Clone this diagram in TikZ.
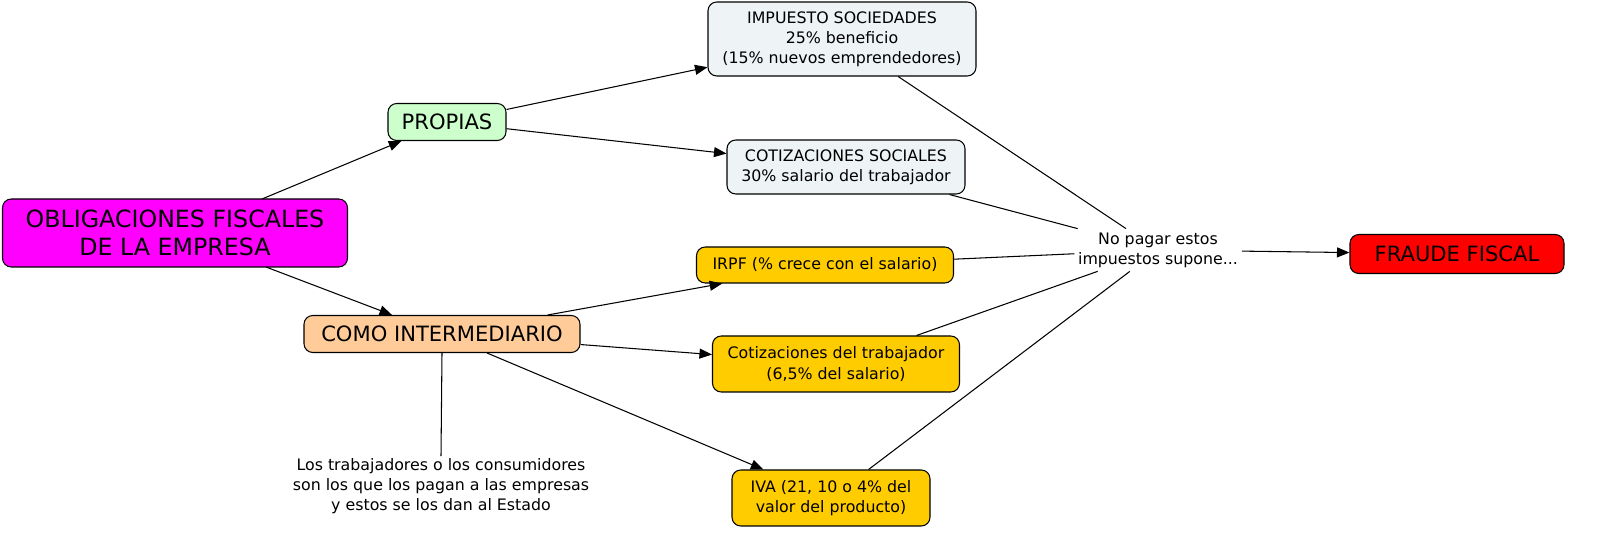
\documentclass[tikz,border=0pt]{standalone}
\usepackage{fontspec}
\setmainfont{DejaVu Sans}
\usetikzlibrary{arrows.meta}
\begin{document}
\begin{tikzpicture}[x=0.02cm,y=-0.02cm,
  box/.style={draw=black,rounded corners=5pt,align=center,inner sep=0pt,line width=0.6pt},
  small/.style={font=\fontsize{9}{11.5}\selectfont},
  big/.style={font=\fontsize{12}{14}\selectfont},
  arr/.style={-{Triangle[length=0.25cm,width=0.2cm]},line width=0.6pt},
  ln/.style={line width=0.6pt}]
\definecolor{mag}{HTML}{FF00FF}
\definecolor{lgreen}{HTML}{CCFFCC}
\definecolor{peach}{HTML}{FFCC99}
\definecolor{pale}{HTML}{EEF4F6}
\definecolor{gold}{HTML}{FFCC00}
\node[box,fill=mag,minimum width=345*0.02cm,minimum height=68*0.02cm,font=\fontsize{13.5}{16}\selectfont] (obl) at (175,233) {OBLIGACIONES FISCALES\\ DE LA EMPRESA};
\node[box,big,fill=lgreen,minimum width=118*0.02cm,minimum height=37*0.02cm] (pro) at (447,122) {PROPIAS};
\node[box,big,fill=peach,minimum width=276*0.02cm,minimum height=37*0.02cm] (como) at (442,334) {COMO INTERMEDIARIO};
\node[box,small,fill=pale,minimum width=268*0.02cm,minimum height=74*0.02cm] (imp) at (842,39) {IMPUESTO SOCIEDADES\\25\% beneficio\\(15\% nuevos emprendedores)};
\node[box,small,fill=pale,minimum width=238*0.02cm,minimum height=54*0.02cm] (cot) at (846,167) {COTIZACIONES SOCIALES\\30\% salario del trabajador};
\node[box,small,fill=gold,minimum width=257*0.02cm,minimum height=36*0.02cm] (irpf) at (825,265) {IRPF (\% crece con el salario)};
\node[box,small,fill=gold,minimum width=247*0.02cm,minimum height=56*0.02cm] (cott) at (836,364) {Cotizaciones del trabajador\\(6,5\% del salario)};
\node[box,small,fill=gold,minimum width=198*0.02cm,minimum height=56*0.02cm] (iva) at (831,498) {IVA (21, 10 o 4\% del\\valor del producto)};
\node[small,fill=white,align=center,inner sep=2pt] (np) at (1158,250) {No pagar estos\\impuestos supone...};
\node[box,big,fill=red,minimum width=214*0.02cm,minimum height=39*0.02cm] (fr) at (1457,254) {FRAUDE FISCAL};
\node[small,align=center,inner sep=1pt] (txt) at (441,486) {Los trabajadores o los consumidores\\son los que los pagan a las empresas\\y estos se los dan al Estado};
\coordinate (o1) at (262,199);
\coordinate (o2) at (266,267);
\draw[arr] (o1) -- (pro);
\draw[arr] (o2) -- (como);
\draw[arr] (pro) -- (imp);
\draw[arr] (pro) -- (cot);
\draw[arr] (como) -- (irpf);
\draw[arr] (como) -- (cott);
\draw[arr] (como) -- (iva);
\draw[ln] (imp) -- (np);
\draw[ln] (cot) -- (np);
\draw[ln] (irpf) -- (np);
\draw[ln] (cott) -- (np);
\draw[ln] (iva) -- (np);
\draw[ln] (como.south) -- (txt.north);
\draw[arr] (np) -- (fr);
\pgfresetboundingbox
\useasboundingbox (0,0) rectangle (1600,540);
\end{tikzpicture}
\end{document}
